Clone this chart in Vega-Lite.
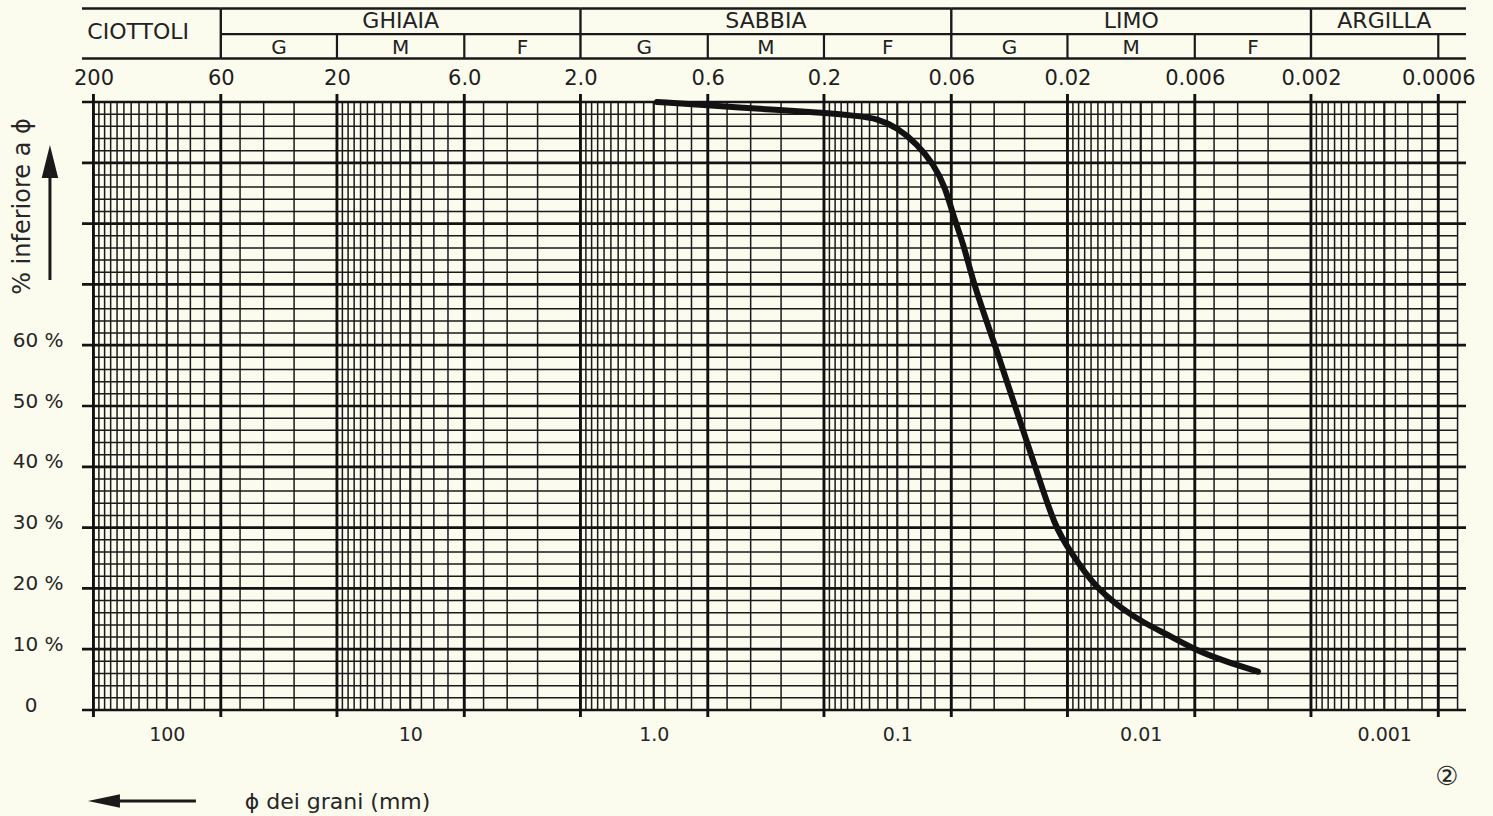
{
  "$schema": "https://vega.github.io/schema/vega-lite/v6.json",
  "width": 1384,
  "height": 608,
  "autosize": "none",
  "padding": {"left": 82, "top": 102, "right": 27, "bottom": 106},
  "background": "#fbfbee",
  "config": {"view": {"stroke": null}, "font": "DejaVu Sans"},
  "datasets": {
    "vgrid": [
      {"d":190},{"d":180},{"d":170},{"d":160},{"d":150},{"d":140},{"d":130},{"d":120},{"d":110},{"d":100},{"d":90},{"d":80},{"d":70},
      {"d":50},{"d":40},{"d":30},
      {"d":19},{"d":18},{"d":17},{"d":16},{"d":15},{"d":14},{"d":13},{"d":12},{"d":11},{"d":10},{"d":9},{"d":8},{"d":7},
      {"d":5},{"d":4},{"d":3},
      {"d":1.9},{"d":1.8},{"d":1.7},{"d":1.6},{"d":1.5},{"d":1.4},{"d":1.3},{"d":1.2},{"d":1.1},{"d":1},{"d":0.9},{"d":0.8},{"d":0.7},
      {"d":0.5},{"d":0.4},{"d":0.3},
      {"d":0.19},{"d":0.18},{"d":0.17},{"d":0.16},{"d":0.15},{"d":0.14},{"d":0.13},{"d":0.12},{"d":0.11},{"d":0.1},{"d":0.09},{"d":0.08},{"d":0.07},
      {"d":0.05},{"d":0.04},{"d":0.03},
      {"d":0.019},{"d":0.018},{"d":0.017},{"d":0.016},{"d":0.015},{"d":0.014},{"d":0.013},{"d":0.012},{"d":0.011},{"d":0.01},{"d":0.009},{"d":0.008},{"d":0.007},
      {"d":0.005},{"d":0.004},{"d":0.003},
      {"d":0.0019},{"d":0.0018},{"d":0.0017},{"d":0.0016},{"d":0.0015},{"d":0.0014},{"d":0.0013},{"d":0.0012},{"d":0.0011},{"d":0.001},{"d":0.0009},{"d":0.0008},{"d":0.0007},
      {"d":0.0005}
    ],
    "hgrid": [
      {"p":0},{"p":2},{"p":4},{"p":6},{"p":8},{"p":10},{"p":12},{"p":14},{"p":16},{"p":18},{"p":20},{"p":22},{"p":24},{"p":26},{"p":28},{"p":30},{"p":32},{"p":34},{"p":36},{"p":38},{"p":40},{"p":42},{"p":44},{"p":46},{"p":48},{"p":50},{"p":52},{"p":54},{"p":56},{"p":58},{"p":60},{"p":62},{"p":64},{"p":66},{"p":68},{"p":70},{"p":72},{"p":74},{"p":76},{"p":78},{"p":80},{"p":82},{"p":84},{"p":86},{"p":88},{"p":90},{"p":92},{"p":94},{"p":96},{"p":98},{"p":100}
    ],
    "bounds": [
      {"d":200,"main":false},{"d":60,"main":true},{"d":20,"main":false},{"d":6,"main":false},{"d":2,"main":true},{"d":0.6,"main":false},{"d":0.2,"main":false},{"d":0.06,"main":true},{"d":0.02,"main":false},{"d":0.006,"main":false},{"d":0.002,"main":true},{"d":0.0006,"main":false}
    ],
    "classes": [
      {"name":"CIOTTOLI","from":222.9,"to":60,"mid":131},
      {"name":"GHIAIA","from":60,"to":2,"mid":10.95},
      {"name":"SABBIA","from":2,"to":0.06,"mid":0.3464},
      {"name":"LIMO","from":0.06,"to":0.002,"mid":0.01095},
      {"name":"ARGILLA","from":0.002,"to":0.0004617,"mid":0.001}
    ],
    "sub": [
      {"name":"G","mid":34.64},{"name":"M","mid":10.95},{"name":"F","mid":3.464},
      {"name":"G","mid":1.095},{"name":"M","mid":0.3464},{"name":"F","mid":0.1095},
      {"name":"G","mid":0.03464},{"name":"M","mid":0.01095},{"name":"F","mid":0.003464}
    ],
    "curve": [
      {"d":0.97,"p":100},{"d":0.58,"p":99.4},{"d":0.29,"p":98.6},{"d":0.195,"p":98.2},{"d":0.146,"p":97.7},{"d":0.121,"p":97.3},{"d":0.1,"p":95.8},{"d":0.083,"p":93.1},{"d":0.0709,"p":89.8},{"d":0.0635,"p":86.0},{"d":0.0586,"p":81.0},{"d":0.0534,"p":76.6},{"d":0.0484,"p":69.8},{"d":0.0395,"p":59.8},{"d":0.0327,"p":49.7},{"d":0.027,"p":39.8},{"d":0.0225,"p":30},{"d":0.0194,"p":26},{"d":0.0155,"p":20.3},{"d":0.0121,"p":16.8},{"d":0.0097,"p":14.3},{"d":0.0075,"p":12.1},{"d":0.006,"p":9.9},{"d":0.0045,"p":8.0},{"d":0.0033,"p":6.3}
    ]
  },
  "layer": [
    {
      "data": {"name": "vgrid"},
      "mark": {"type": "rule", "color": "#1a1a1a"},
      "encoding": {
        "x": {"field": "d", "type": "quantitative",
          "scale": {"type": "log", "domain": [0.0004617, 222.9], "reverse": true, "nice": false},
          "axis": {"orient": "bottom", "values": [100, 10, 1, 0.1, 0.01, 0.001],
            "labelExpr": "datum.value == 1 ? '1.0' : format(datum.value, '~g')",
            "domain": false, "ticks": false, "grid": false, "labelPadding": 15,
            "labelFontSize": 19, "labelFont": "DejaVu Sans", "labelColor": "#262626",
            "labelOverlap": false, "labelFlush": false, "labelBound": false,
            "title": "ϕ dei grani (mm)", "titleX": 255, "titleY": 91, "titleAlign": "center",
            "titleBaseline": "middle", "titleFontSize": 22, "titleFontWeight": "normal",
            "titleFont": "DejaVu Sans", "titleColor": "#262626", "titleAnchor": null}},
        "y": {"datum": 0, "type": "quantitative", "scale": {"domain": [0, 100], "nice": false, "zero": false}, "axis": null},
        "y2": {"datum": 100},
        "strokeWidth": {"condition": {"test": "datum.d == 100 || datum.d == 10 || datum.d == 1 || datum.d == 0.1 || datum.d == 0.01 || datum.d == 0.001", "value": 2.2}, "value": 1.5}
      }
    },
    {
      "data": {"name": "hgrid"},
      "transform": [{"filter": "datum.p % 10 != 0"}],
      "mark": {"type": "rule", "color": "#1a1a1a", "strokeWidth": 1.5},
      "encoding": {
        "y": {"field": "p", "type": "quantitative", "scale": {"domain": [0, 100], "nice": false, "zero": false}, "axis": null},
        "x": {"datum": 200, "type": "quantitative", "scale": {"type": "log", "domain": [0.0004617, 222.9], "reverse": true, "nice": false}, "axis": null},
        "x2": {"datum": 0.0005}
      }
    },
    {
      "data": {"name": "hgrid"},
      "transform": [{"filter": "datum.p % 10 == 0"}],
      "mark": {"type": "rule", "color": "#131313", "strokeWidth": 2.7},
      "encoding": {
        "y": {"field": "p", "type": "quantitative", "scale": {"domain": [0, 100], "nice": false, "zero": false},
          "axis": {"orient": "left", "values": [0, 10, 20, 30, 40, 50, 60],
            "labelExpr": "datum.value == 0 ? '0' : datum.value + ' %'",
            "domain": false, "ticks": false, "grid": false,
            "labelPadding": {"condition": {"test": "datum.value == 0", "value": 45}, "value": 19},
            "labelOffset": -5,
            "labelFontSize": 20, "labelFont": "DejaVu Sans", "labelColor": "#262626",
            "labelOverlap": false, "labelFlush": false, "labelBound": false,
            "title": "% inferiore a ϕ", "titleAngle": -90, "titleX": -60, "titleY": 104,
            "titleAlign": "center", "titleBaseline": "middle", "titleFontSize": 24,
            "titleFontWeight": "normal", "titleFont": "DejaVu Sans", "titleColor": "#262626", "titleAnchor": null}},
        "x": {"datum": 222.9, "type": "quantitative", "scale": {"type": "log", "domain": [0.0004617, 222.9], "reverse": true, "nice": false}, "axis": null},
        "x2": {"datum": 0.0004617}
      }
    },
    {
      "data": {"name": "bounds"},
      "mark": {"type": "rule", "color": "#111111", "strokeWidth": 2.9},
      "encoding": {
        "x": {"field": "d", "type": "quantitative",
          "scale": {"type": "log", "domain": [0.0004617, 222.9], "reverse": true, "nice": false},
          "axis": {"orient": "top", "values": [200, 60, 20, 6, 2, 0.6, 0.2, 0.06, 0.02, 0.006, 0.002, 0.0006],
            "labelExpr": "datum.value == 6 ? '6.0' : datum.value == 2 ? '2.0' : format(datum.value, '~g')",
            "domain": false, "ticks": false, "grid": false, "labelPadding": 14,
            "labelFontSize": 21, "labelFont": "DejaVu Sans", "labelColor": "#1e1e1e",
            "labelOverlap": false, "labelFlush": false, "labelBound": false, "title": null}},
        "y": {"datum": -1.15, "type": "quantitative", "scale": {"domain": [0, 100], "nice": false, "zero": false}, "axis": null},
        "y2": {"datum": 101.32}
      }
    },
    {
      "data": {"name": "classes"},
      "mark": {"type": "rule", "color": "#1a1a1a", "strokeWidth": 2.4},
      "encoding": {
        "x": {"field": "from", "type": "quantitative", "scale": {"type": "log", "domain": [0.0004617, 222.9], "reverse": true, "nice": false}, "axis": null},
        "x2": {"field": "to"},
        "y": {"datum": 115.38, "type": "quantitative", "scale": {"domain": [0, 100], "nice": false, "zero": false}, "axis": null}
      }
    },
    {
      "data": {"name": "classes"},
      "mark": {"type": "rule", "color": "#1a1a1a", "strokeWidth": 2.4},
      "encoding": {
        "x": {"field": "from", "type": "quantitative", "scale": {"type": "log", "domain": [0.0004617, 222.9], "reverse": true, "nice": false}, "axis": null},
        "x2": {"field": "to"},
        "y": {"datum": 107.15, "type": "quantitative", "scale": {"domain": [0, 100], "nice": false, "zero": false}, "axis": null}
      }
    },
    {
      "data": {"name": "classes"},
      "transform": [{"filter": "datum.name != 'CIOTTOLI'"}],
      "mark": {"type": "rule", "color": "#1a1a1a", "strokeWidth": 2.2},
      "encoding": {
        "x": {"field": "from", "type": "quantitative", "scale": {"type": "log", "domain": [0.0004617, 222.9], "reverse": true, "nice": false}, "axis": null},
        "x2": {"field": "to"},
        "y": {"datum": 111.18, "type": "quantitative", "scale": {"domain": [0, 100], "nice": false, "zero": false}, "axis": null}
      }
    },
    {
      "data": {"name": "bounds"},
      "transform": [{"filter": "datum.main"}],
      "mark": {"type": "rule", "color": "#1a1a1a", "strokeWidth": 2.4},
      "encoding": {
        "x": {"field": "d", "type": "quantitative", "scale": {"type": "log", "domain": [0.0004617, 222.9], "reverse": true, "nice": false}, "axis": null},
        "y": {"datum": 107.15, "type": "quantitative", "scale": {"domain": [0, 100], "nice": false, "zero": false}, "axis": null},
        "y2": {"datum": 115.38}
      }
    },
    {
      "data": {"name": "bounds"},
      "transform": [{"filter": "!datum.main && datum.d != 200"}],
      "mark": {"type": "rule", "color": "#1a1a1a", "strokeWidth": 2.2},
      "encoding": {
        "x": {"field": "d", "type": "quantitative", "scale": {"type": "log", "domain": [0.0004617, 222.9], "reverse": true, "nice": false}, "axis": null},
        "y": {"datum": 107.15, "type": "quantitative", "scale": {"domain": [0, 100], "nice": false, "zero": false}, "axis": null},
        "y2": {"datum": 111.18}
      }
    },
    {
      "data": {"name": "classes"},
      "transform": [{"filter": "datum.name == 'CIOTTOLI'"}],
      "mark": {"type": "text", "font": "DejaVu Sans", "fontSize": 22, "color": "#222222", "align": "center", "baseline": "middle"},
      "encoding": {
        "x": {"field": "mid", "type": "quantitative", "scale": {"type": "log", "domain": [0.0004617, 222.9], "reverse": true, "nice": false}, "axis": null},
        "y": {"datum": 111.5, "type": "quantitative", "scale": {"domain": [0, 100], "nice": false, "zero": false}, "axis": null},
        "text": {"field": "name"}
      }
    },
    {
      "data": {"name": "classes"},
      "transform": [{"filter": "datum.name != 'CIOTTOLI'"}],
      "mark": {"type": "text", "font": "DejaVu Sans", "fontSize": 22, "color": "#222222", "align": "center", "baseline": "middle"},
      "encoding": {
        "x": {"field": "mid", "type": "quantitative", "scale": {"type": "log", "domain": [0.0004617, 222.9], "reverse": true, "nice": false}, "axis": null},
        "y": {"datum": 113.3, "type": "quantitative", "scale": {"domain": [0, 100], "nice": false, "zero": false}, "axis": null},
        "text": {"field": "name"}
      }
    },
    {
      "data": {"name": "sub"},
      "mark": {"type": "text", "font": "DejaVu Sans", "fontSize": 20, "color": "#222222", "align": "center", "baseline": "middle"},
      "encoding": {
        "x": {"field": "mid", "type": "quantitative", "scale": {"type": "log", "domain": [0.0004617, 222.9], "reverse": true, "nice": false}, "axis": null},
        "y": {"datum": 108.9, "type": "quantitative", "scale": {"domain": [0, 100], "nice": false, "zero": false}, "axis": null},
        "text": {"field": "name"}
      }
    },
    {
      "data": {"name": "curve"},
      "mark": {"type": "line", "interpolate": "basis", "strokeWidth": 6, "color": "#121212", "strokeCap": "round"},
      "encoding": {
        "x": {"field": "d", "type": "quantitative", "scale": {"type": "log", "domain": [0.0004617, 222.9], "reverse": true, "nice": false}, "axis": null},
        "y": {"field": "p", "type": "quantitative", "scale": {"domain": [0, 100], "nice": false, "zero": false}, "axis": null},
        "order": {"field": "d", "sort": "descending"}
      }
    },
    {
      "data": {"values": [{}]},
      "mark": {"type": "rule", "color": "#1a1a1a", "strokeWidth": 3},
      "encoding": {
        "x": {"datum": 301.8, "type": "quantitative", "scale": {"type": "log", "domain": [0.0004617, 222.9], "reverse": true, "nice": false}, "axis": null},
        "y": {"datum": 70.72, "type": "quantitative", "scale": {"domain": [0, 100], "nice": false, "zero": false}, "axis": null},
        "y2": {"datum": 88}
      }
    },
    {
      "data": {"values": [{}]},
      "mark": {"type": "point", "shape": "M0,-1L0.5,1L-0.5,1Z", "size": 1089, "filled": true, "color": "#1a1a1a", "opacity": 1},
      "encoding": {
        "x": {"datum": 301.8, "type": "quantitative", "scale": {"type": "log", "domain": [0.0004617, 222.9], "reverse": true, "nice": false}, "axis": null},
        "y": {"datum": 90.21, "type": "quantitative", "scale": {"domain": [0, 100], "nice": false, "zero": false}, "axis": null}
      }
    },
    {
      "data": {"values": [{}]},
      "mark": {"type": "rule", "color": "#1a1a1a", "strokeWidth": 3},
      "encoding": {
        "x": {"datum": 165, "type": "quantitative", "scale": {"type": "log", "domain": [0.0004617, 222.9], "reverse": true, "nice": false}, "axis": null},
        "x2": {"datum": 75.9},
        "y": {"datum": -14.97, "type": "quantitative", "scale": {"domain": [0, 100], "nice": false, "zero": false}, "axis": null}
      }
    },
    {
      "data": {"values": [{}]},
      "mark": {"type": "point", "shape": "M-1,0L1,-0.42L1,0.42Z", "size": 1024, "filled": true, "color": "#1a1a1a", "opacity": 1},
      "encoding": {
        "x": {"datum": 181.1, "type": "quantitative", "scale": {"type": "log", "domain": [0.0004617, 222.9], "reverse": true, "nice": false}, "axis": null},
        "y": {"datum": -14.97, "type": "quantitative", "scale": {"domain": [0, 100], "nice": false, "zero": false}, "axis": null}
      }
    },
    {
      "data": {"values": [{}]},
      "mark": {"type": "text", "text": "②", "font": "DejaVu Sans", "fontSize": 26, "color": "#262626", "align": "center", "baseline": "middle"},
      "encoding": {
        "x": {"datum": 0.000553, "type": "quantitative", "scale": {"type": "log", "domain": [0.0004617, 222.9], "reverse": true, "nice": false}, "axis": null},
        "y": {"datum": -11.02, "type": "quantitative", "scale": {"domain": [0, 100], "nice": false, "zero": false}, "axis": null}
      }
    }
  ],
  "resolve": {"axis": {"x": "independent", "y": "independent"}}
}
